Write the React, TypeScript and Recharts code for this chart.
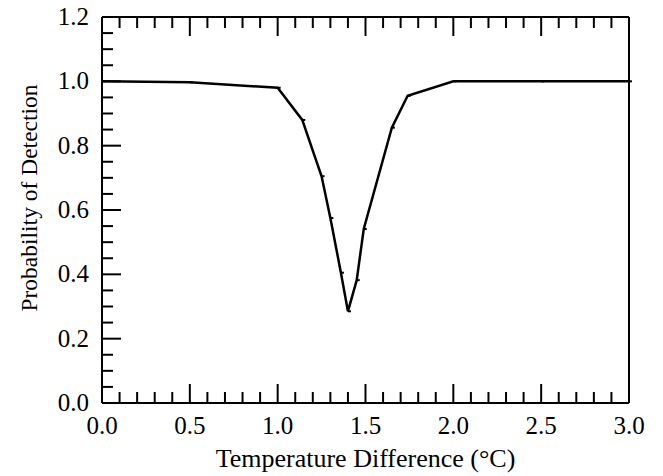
import { LineChart, Line, XAxis, YAxis } from 'recharts'

const tempDiff = [0, 0.5, 1.0, 1.14, 1.25, 1.3, 1.36, 1.4, 1.45, 1.49, 1.65, 1.74, 2.0, 2.5, 3.0]
const detectProb = [1.0, 0.997, 0.98, 0.88, 0.705, 0.575, 0.405, 0.285, 0.382, 0.541, 0.856, 0.955, 1.0, 1.0, 1.0]

const xMajor = [0, 0.5, 1.0, 1.5, 2.0, 2.5, 3.0]
const yMajor = [0, 0.2, 0.4, 0.6, 0.8, 1.0, 1.2]

const xTicks = Array.from({ length: 31 }, (_, i) => +(i * 0.1).toFixed(2))
const yTicks = Array.from({ length: 25 }, (_, i) => +(i * 0.05).toFixed(2))

const data = tempDiff.map((t, i) => ({ t, p: detectProb[i] }))

const FONT = '"Liberation Serif", "Times New Roman", serif'
const MAJ = 19
const MIN = 11
const isMajor = (v: number, list: number[]) => list.some(m => Math.abs(m - v) < 1e-6)

// custom ticks: draw the inward tick mark plus (optionally) the label
const BottomTick = (props: any) => {
  const { x, y, payload } = props
  const major = isMajor(payload.value, xMajor)
  return (
    <g>
      <line x1={x} x2={x} y1={y} y2={y - (major ? MAJ : MIN)} stroke="#000" strokeWidth={2} />
      {major && (
        <text x={x} y={y + 31} textAnchor="middle" fontFamily={FONT} fontSize={25} fill="#000">
          {payload.value.toFixed(1)}
        </text>
      )}
    </g>
  )
}

const TopTick = (props: any) => {
  const { x, y, payload } = props
  const major = isMajor(payload.value, xMajor)
  return <line x1={x} x2={x} y1={y} y2={y + (major ? MAJ : MIN)} stroke="#000" strokeWidth={2} />
}

const LeftTick = (props: any) => {
  const { x, y, payload } = props
  const major = isMajor(payload.value, yMajor)
  return (
    <g>
      <line x1={x} x2={x + (major ? MAJ : MIN)} y1={y} y2={y} stroke="#000" strokeWidth={2} />
      {major && (
        <text x={x - 13} y={y + 8} textAnchor="end" fontFamily={FONT} fontSize={25} fill="#000">
          {payload.value.toFixed(1)}
        </text>
      )}
    </g>
  )
}

const RightTick = (props: any) => {
  const { x, y, payload } = props
  const major = isMajor(payload.value, yMajor)
  return <line x1={x} x2={x - (major ? MAJ : MIN)} y1={y} y2={y} stroke="#000" strokeWidth={2} />
}

const PointMark = (props: any) => {
  const { cx, cy } = props
  return <line x1={cx} x2={cx + 3} y1={cy} y2={cy} stroke="#000" strokeWidth={2} />
}

export default function App() {
  return (
    <div style={{ position: 'absolute', left: 0, top: 0, width: 663, height: 476, background: '#fff' }}>
      <LineChart width={663} height={476} data={data} margin={{ top: 16, right: 33, left: 0, bottom: 0 }}>
        <XAxis
          dataKey="t"
          type="number"
          domain={[0, 3]}
          ticks={xTicks}
          interval={0}
          height={73}
          tickSize={0}
          tickMargin={0}
          tickLine={false}
          axisLine={{ stroke: '#000', strokeWidth: 2 }}
          tick={BottomTick}
          label={{ value: 'Temperature Difference (°C)', position: 'insideBottom', offset: 9, fontFamily: FONT, fontSize: 26, fill: '#000' }}
        />
        <XAxis
          xAxisId="top"
          orientation="top"
          dataKey="t"
          type="number"
          domain={[0, 3]}
          ticks={xTicks}
          interval={0}
          height={1}
          tickSize={0}
          tickMargin={0}
          tickLine={false}
          axisLine={{ stroke: '#000', strokeWidth: 2 }}
          tick={TopTick}
        />
        <YAxis
          type="number"
          domain={[0, 1.2]}
          ticks={yTicks}
          interval={0}
          width={102}
          tickSize={0}
          tickMargin={0}
          tickLine={false}
          axisLine={{ stroke: '#000', strokeWidth: 2 }}
          tick={LeftTick}
        />
        <YAxis
          yAxisId="right"
          orientation="right"
          type="number"
          domain={[0, 1.2]}
          ticks={yTicks}
          interval={0}
          width={1}
          tickSize={0}
          tickMargin={0}
          tickLine={false}
          axisLine={{ stroke: '#000', strokeWidth: 2 }}
          tick={RightTick}
        />
        <Line
          dataKey="p"
          type="linear"
          stroke="#000"
          strokeWidth={2.5}
          dot={PointMark}
          activeDot={false}
          isAnimationActive={false}
        />
      </LineChart>
      <div
        style={{
          position: 'absolute',
          left: 30,
          top: 198,
          transform: 'translate(-50%, -50%) rotate(-90deg)',
          whiteSpace: 'nowrap',
          fontFamily: FONT,
          fontSize: 23.5,
          lineHeight: 1,
          color: '#000',
        }}
      >
        Probability of Detection
      </div>
    </div>
  )
}
